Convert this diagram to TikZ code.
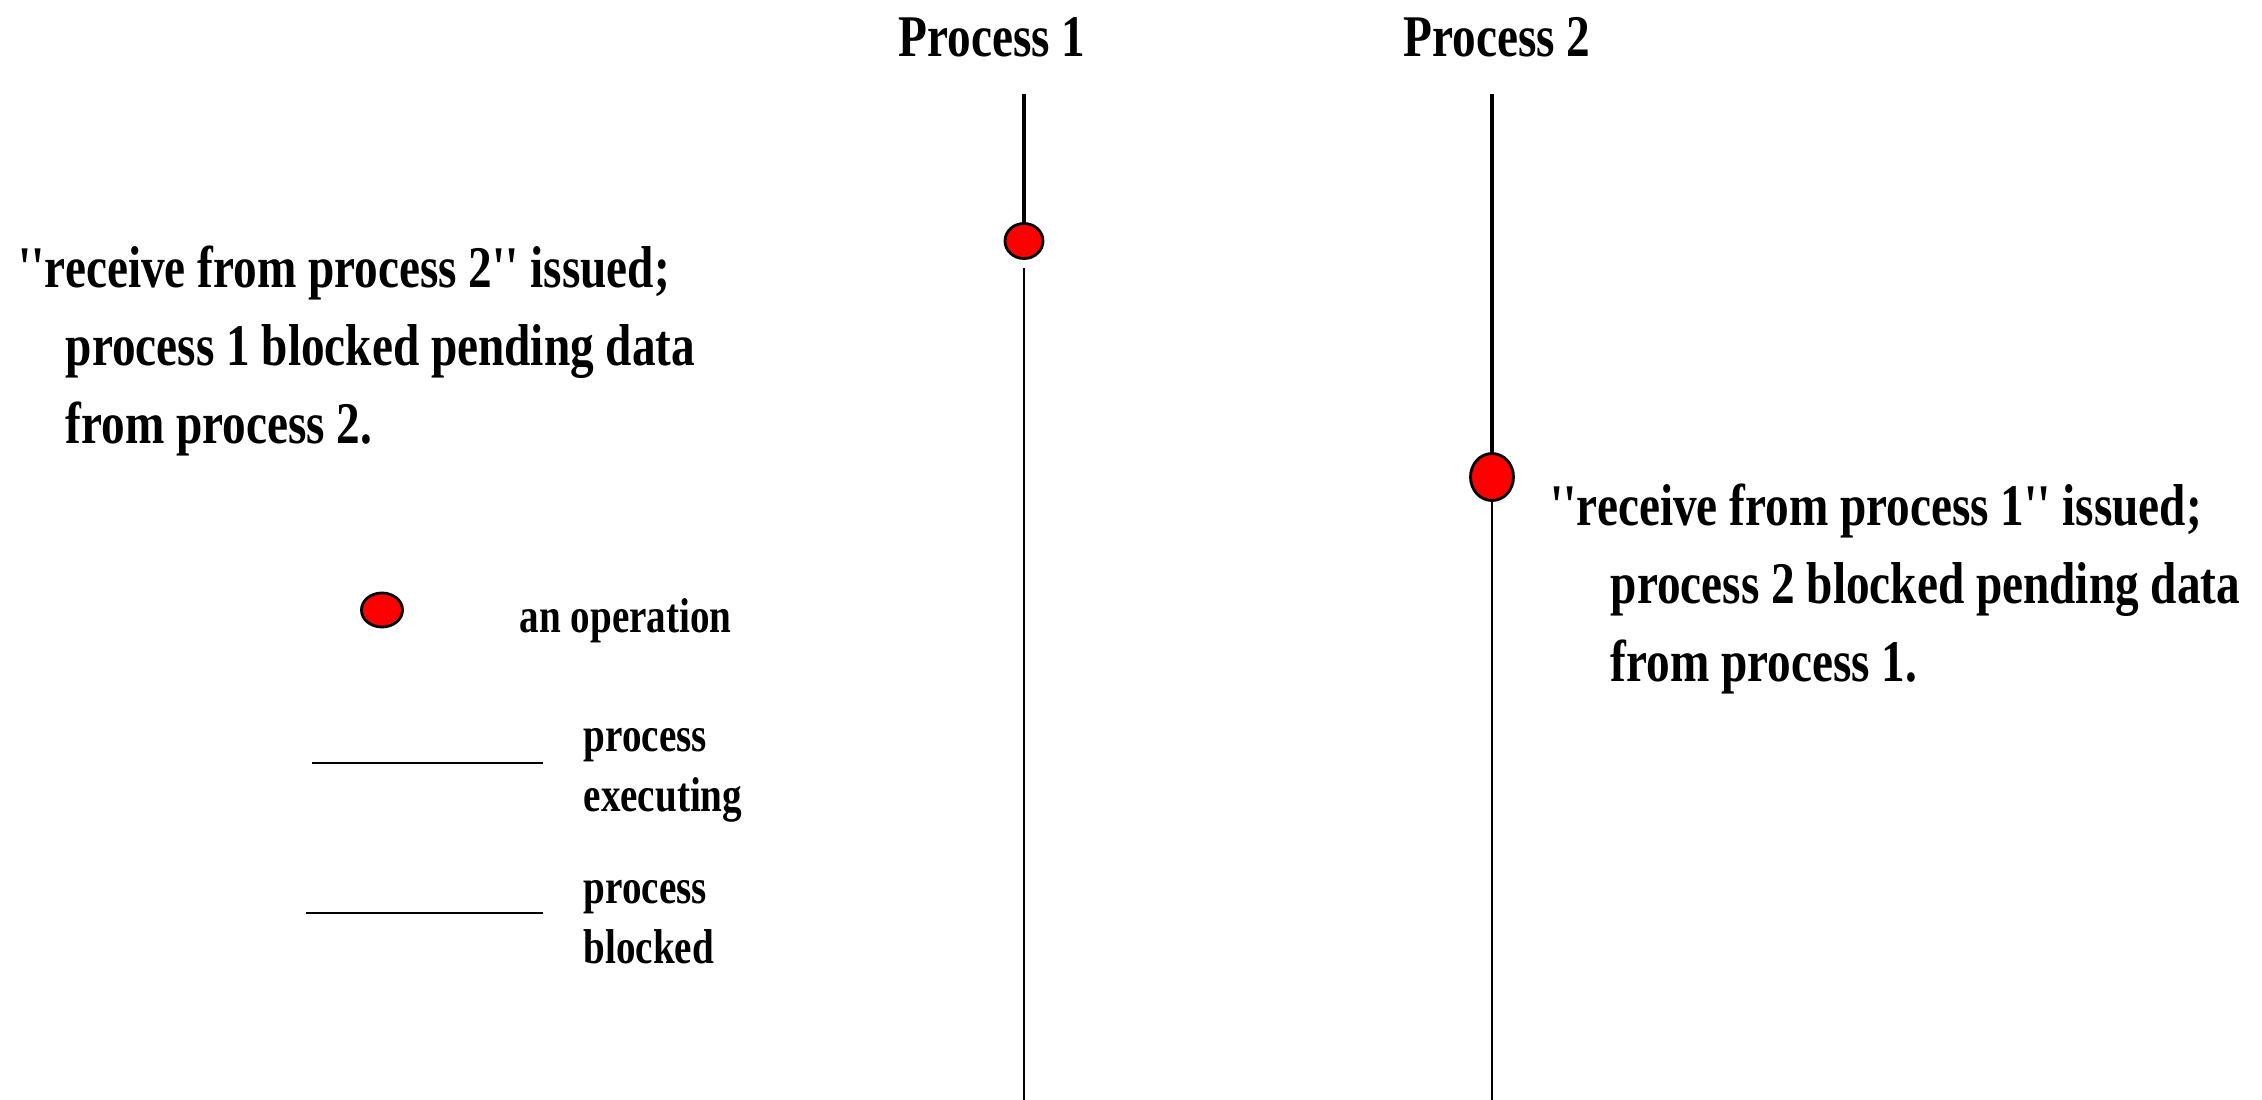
\documentclass[tikz,border=0pt]{standalone}
\usepackage{fontspec}
\setmainfont{Liberation Serif}[FakeStretch=0.8,Ligatures=TeXOff]
\usetikzlibrary{shapes.geometric}
\begin{document}
\begin{tikzpicture}[x=0.01cm,y=-0.01cm,
 every node/.style={inner sep=0pt},
 bigtext/.style={font=\bfseries\fontsize{16.8}{22.2}\selectfont,align=left},
 smalltext/.style={font=\bfseries\fontsize{13.9}{17.1}\selectfont,align=left},
 operation/.style={ellipse,draw=black,line width=0.8pt,fill=red},
 executing/.style={line width=1.15pt},
 blocked/.style={line width=0.6pt},
 legendline/.style={line width=0.85pt}]
\useasboundingbox (0,0) rectangle (2262,1100);
\node[bigtext,anchor=base] (proc1) at (992,57) {Process 1};
\node[bigtext,anchor=base] (proc2) at (1497,57) {Process 2};
\coordinate (top1) at (1024,94);
\coordinate (top2) at (1492,94);
\coordinate (end1) at (1024,1100);
\coordinate (end2) at (1492,1100);
\node[operation,minimum width=0.38cm,minimum height=0.35cm] (recv1) at (1024,241) {};
\node[operation,minimum width=0.43cm,minimum height=0.47cm] (recv2) at (1492,477) {};
\draw[executing] (top1) -- (recv1);
\draw[blocked,shorten <=0.08cm] (recv1) -- (end1);
\draw[executing] (top2) -- (recv2);
\draw[blocked] (recv2) -- (end2);

\node[bigtext,anchor=north west] (note1) at (18,245) {''receive from process 2'' issued;\\\hspace*{0.47cm}process 1 blocked pending data\\\hspace*{0.47cm}from process 2.};
\node[bigtext,anchor=north west] (note2) at (1550,483) {''receive from process 1'' issued;\\\hspace*{0.6cm}process 2 blocked pending data\\\hspace*{0.6cm}from process 1.};

\node[operation,minimum width=0.41cm,minimum height=0.34cm] (legop) at (382,610) {};
\node[smalltext,anchor=base west] (legoptext) at (519,632) {an operation};
\coordinate (legexA) at (312,763);
\coordinate (legexB) at (543,763);
\draw[legendline] (legexA) -- (legexB);
\node[smalltext,anchor=north west] (legex) at (583,728) {process\\executing};
\coordinate (legblA) at (306,913);
\coordinate (legblB) at (543,913);
\draw[legendline] (legblA) -- (legblB);
\node[smalltext,anchor=north west] (legbl) at (583,880) {process\\blocked};
\end{tikzpicture}
\end{document}
